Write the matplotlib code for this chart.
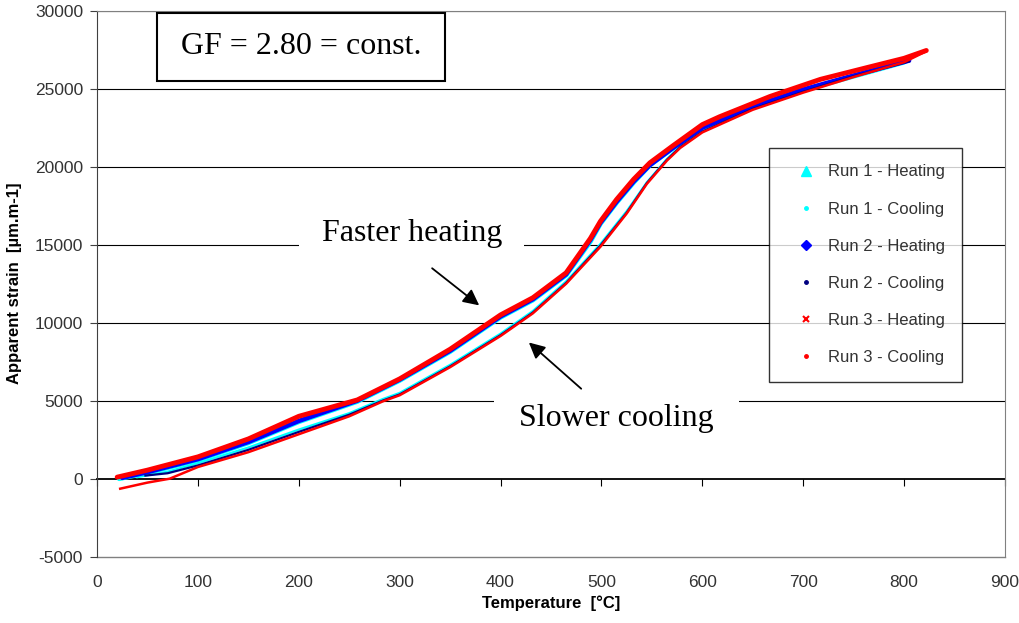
import matplotlib.pyplot as plt
from matplotlib.lines import Line2D
from matplotlib.patches import Rectangle

plt.rcParams['font.family'] = ['Liberation Sans', 'DejaVu Sans']
plt.rcParams['axes.unicode_minus'] = False

# ---- data (temperature in degC, apparent strain in um/m) ----
# Run 1 - heating (cyan triangles)
t_heat_1 = [22, 50, 100, 150, 200, 258, 300, 350, 400, 432, 465, 489, 499, 515, 532, 548, 571, 600, 650, 700, 750, 800]
s_heat_1 = [0, 380, 1200, 2300, 3650, 4950, 6300, 8150, 10350, 11450, 13050, 15200, 16350, 17700, 19000, 20100, 21200, 22450, 23800, 24900, 25800, 26700]
# Run 1 - cooling (cyan dots)
t_cool_1 = [800, 750, 700, 650, 600, 578, 565, 545, 525, 499, 465, 432, 400, 350, 300, 283, 250, 200, 150, 100, 70, 40]
s_cool_1 = [26700, 25800, 24800, 23700, 22300, 21300, 20500, 19000, 17150, 15050, 12650, 10750, 9300, 7300, 5500, 5100, 4200, 3150, 2000, 1000, 450, 100]

# Run 2 - heating (blue diamonds)
t_heat_2 = [25, 50, 100, 150, 200, 258, 300, 350, 400, 432, 465, 489, 499, 515, 532, 548, 571, 600, 650, 700, 750, 805]
s_heat_2 = [50, 420, 1250, 2350, 3700, 5000, 6350, 8200, 10400, 11500, 13100, 15300, 16400, 17750, 19050, 20100, 21200, 22500, 23850, 24950, 25850, 26800]
# Run 2 - cooling (navy dots)
t_cool_2 = [805, 750, 700, 650, 600, 578, 565, 545, 525, 499, 465, 432, 400, 350, 300, 283, 250, 200, 150, 100, 70, 48]
s_cool_2 = [26750, 25800, 24800, 23700, 22250, 21250, 20450, 18950, 17050, 14950, 12550, 10650, 9200, 7200, 5400, 5000, 4100, 3000, 1850, 850, 350, 200]

# Run 3 - heating (red stars)
t_heat_3 = [20, 50, 100, 150, 200, 258, 300, 350, 400, 432, 465, 489, 499, 515, 532, 548, 571, 600, 617, 667, 717, 766, 800, 822]
s_heat_3 = [100, 550, 1400, 2550, 4000, 5050, 6400, 8300, 10500, 11600, 13200, 15400, 16500, 17900, 19200, 20250, 21350, 22700, 23200, 24500, 25600, 26400, 26950, 27450]
# Run 3 - cooling (red dots)
t_cool_3 = [822, 800, 750, 700, 650, 600, 578, 565, 545, 525, 499, 465, 432, 400, 350, 300, 283, 250, 200, 150, 100, 72, 50, 23]
s_cool_3 = [27400, 26700, 25750, 24750, 23650, 22200, 21200, 20400, 18900, 17000, 14870, 12500, 10600, 9150, 7150, 5350, 4950, 4000, 2850, 1700, 750, 0, -250, -640]

x_ticks = [0, 100, 200, 300, 400, 500, 600, 700, 800, 900]
y_ticks = [-5000, 0, 5000, 10000, 15000, 20000, 25000, 30000]

cyan = '#00FFFF'
blue = '#0000FF'
navy = '#000080'
red = '#FF0000'
serif = ['Liberation Serif', 'DejaVu Serif']

fig = plt.figure(figsize=(10.2, 6.23), dpi=100)
ax = fig.add_axes([97 / 1020, 1 - 556.7 / 623, 908 / 1020, 546 / 623])

# heating runs: dense markers look like thick bands
ax.plot(t_heat_1, s_heat_1, color=cyan, lw=3.5, solid_capstyle='round', zorder=3)
ax.plot(t_heat_2, s_heat_2, color=blue, lw=3.2, solid_capstyle='round', zorder=4)
ax.plot(t_heat_3, s_heat_3, color=red, lw=3.5, solid_capstyle='round', zorder=5)
# cooling runs: small dots -> thin lines
ax.plot(t_cool_1, s_cool_1, color=cyan, lw=1.6, zorder=3)
ax.plot(t_cool_2, s_cool_2, color=navy, lw=1.6, zorder=4)
ax.plot(t_cool_3, s_cool_3, color=red, lw=1.8, zorder=5)

ax.set_xlim(0, 900)
ax.set_ylim(-5000, 30000)
ax.set_xticks(x_ticks)
ax.set_yticks(y_ticks)

for y in y_ticks[2:]:
    ax.axhline(y, color='black', lw=0.8, zorder=1)
ax.axhline(-5000, color='#808080', lw=1.0, zorder=1, clip_on=False)

ax.spines['bottom'].set_position(('data', 0))
ax.spines['bottom'].set_color('black')
ax.spines['bottom'].set_linewidth(1.3)
ax.spines['bottom'].set_zorder(2)
for side in ['top', 'right']:
    ax.spines[side].set_color('#808080')
ax.spines['left'].set_color('#404040')

ax.tick_params(axis='x', direction='out', length=5, pad=64, labelsize=12.5, colors='black', labelcolor='#333333')
ax.tick_params(axis='y', direction='out', length=5, pad=5, labelsize=12.5, color='#404040', labelcolor='#333333')

ax.set_xlabel('Temperature  [\u00b0C]', fontsize=12, fontweight='bold', labelpad=4)
ax.set_ylabel('Apparent strain  [\u00b5m.m-1]', fontsize=12, fontweight='bold', labelpad=9)

# GF box
ax.add_patch(Rectangle((0.066, 0.872), 0.317, 0.123, transform=ax.transAxes,
                       facecolor='white', edgecolor='black', lw=1.5, zorder=6))
ax.text(0.2247, 0.934, 'GF = 2.80 = const.', transform=ax.transAxes, ha='center', va='center',
        fontsize=23, family=serif, zorder=7)

# annotations
ax.text(312, 15750, 'Faster heating', ha='center', va='center', fontsize=23, family=serif, zorder=6,
        bbox=dict(boxstyle='square,pad=0.7', facecolor='white', edgecolor='none'))
ax.annotate('', xy=(381, 11000), xytext=(330, 13600),
            arrowprops=dict(arrowstyle='-|>', color='black', lw=1.3, mutation_scale=24), zorder=7)
ax.text(515, 3850, 'Slower cooling', ha='center', va='center', fontsize=23, family=serif, zorder=6,
        bbox=dict(boxstyle='square,pad=0.8', facecolor='white', edgecolor='none'))
ax.annotate('', xy=(426, 8850), xytext=(482, 5650),
            arrowprops=dict(arrowstyle='-|>', color='black', lw=1.3, mutation_scale=24), zorder=7)

handles = [
    Line2D([], [], ls='none', marker='^', color=cyan, markersize=7),
    Line2D([], [], ls='none', marker='o', color=cyan, markersize=2.5),
    Line2D([], [], ls='none', marker='D', color=blue, markersize=5),
    Line2D([], [], ls='none', marker='o', color=navy, markersize=2.5),
    Line2D([], [], ls='none', marker='x', color=red, markersize=5, markeredgewidth=1.5),
    Line2D([], [], ls='none', marker='o', color=red, markersize=2.5),
]
labels = ['Run 1 - Heating', 'Run 1 - Cooling', 'Run 2 - Heating',
          'Run 2 - Cooling', 'Run 3 - Heating', 'Run 3 - Cooling']
leg = ax.legend(handles, labels, loc='upper left', bbox_to_anchor=(0.740, 0.749),
                fontsize=12, frameon=True, fancybox=False, edgecolor='black',
                labelspacing=1.33, borderpad=1.0, handlelength=2.4, handletextpad=0.15,
                borderaxespad=0)
leg.get_frame().set_linewidth(1.0)
leg.set_zorder(8)
for t in leg.get_texts():
    t.set_color('#333333')

plt.savefig('out.png', dpi=100)
